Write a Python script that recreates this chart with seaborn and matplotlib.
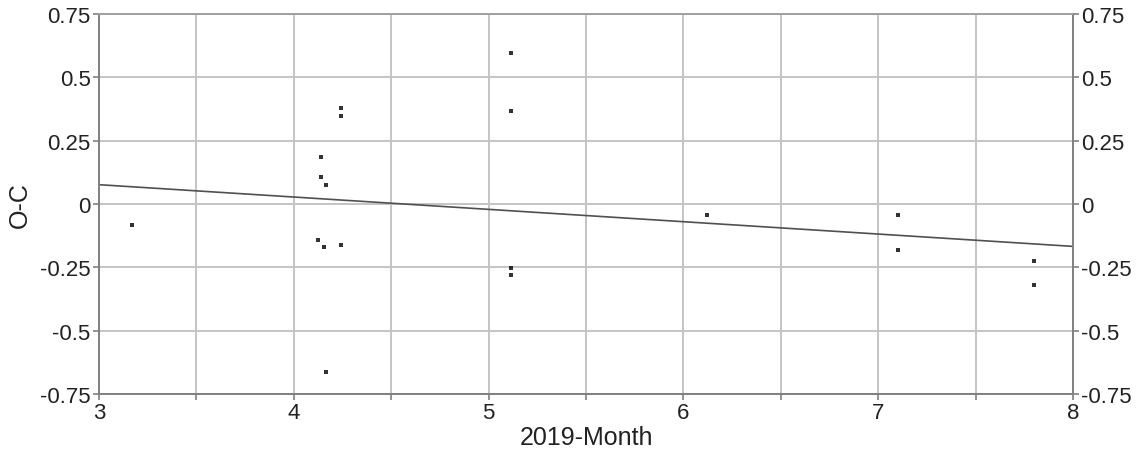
import numpy as np
import pandas as pd
import matplotlib
matplotlib.use("Agg")
import matplotlib.pyplot as plt
import seaborn as sns
from matplotlib.ticker import FuncFormatter

# observations: month of 2019 vs O-C residual
month = [3.171, 4.141, 4.141, 4.165, 4.244, 4.244, 4.123, 4.155, 4.244, 4.165,
         5.115, 5.115, 5.115, 5.115, 6.123, 7.100, 7.100, 7.800, 7.800]
o_c = [-0.083, 0.186, 0.105, 0.076, 0.380, 0.346, -0.141, -0.171, -0.162, -0.664,
       0.596, 0.368, -0.251, -0.282, -0.043, -0.043, -0.183, -0.224, -0.320]

y_ticks = [-0.75, -0.5, -0.25, 0, 0.25, 0.5, 0.75]
y_labels = ["-0.75", "-0.5", "-0.25", "0", "0.25", "0.5", "0.75"]
x_ticks = [3, 3.5, 4, 4.5, 5, 5.5, 6, 6.5, 7, 7.5, 8]

df = pd.DataFrame({"month": month, "oc": o_c})

sns.set_style("white")
plt.rcParams["font.family"] = ["Liberation Sans", "DejaVu Sans"]

fig = plt.figure(figsize=(11.38, 4.52), dpi=100)
ax = fig.add_axes([0.087, 0.126, 0.856, 0.841])
ax.set_xlim(3, 8)
ax.set_ylim(-0.75, 0.75)

sns.regplot(data=df, x="month", y="oc", ax=ax, ci=None, truncate=False,
            marker="s", color="black",
            scatter_kws={"s": 10, "linewidths": 0, "zorder": 3},
            line_kws={"color": "#505050", "linewidth": 1.2, "zorder": 2})

ax.set_xlim(3, 8)
ax.set_ylim(-0.75, 0.75)
ax.set_xticks(x_ticks)
ax.xaxis.set_major_formatter(FuncFormatter(lambda v, p: f"{v:g}" if float(v).is_integer() else ""))
ax.set_yticks(y_ticks)
ax.set_yticklabels(y_labels)
ax.grid(True, color="#c4c4c4", linewidth=1.4)
ax.set_axisbelow(True)

for s in ax.spines.values():
    s.set_color("#808080")
    s.set_linewidth(1.4)
ax.spines["top"].set_color("#a0a0a0")

ax.tick_params(axis="both", direction="out", length=4, width=1.2, color="#808080",
               labelsize=16, labelcolor="#222222", pad=2)
ax.tick_params(axis="y", left=True)
ax.tick_params(axis="x", bottom=True)
ax.set_xlabel("2019-Month", fontsize=18, color="#222222", labelpad=1)
ax.set_ylabel("O-C", fontsize=18, color="#222222", labelpad=6)

ax2 = ax.twinx()
ax2.set_ylim(-0.75, 0.75)
ax2.set_yticks(y_ticks)
ax2.set_yticklabels(y_labels)
ax2.tick_params(axis="y", direction="out", length=4, width=1.2, color="#808080",
                labelsize=16, labelcolor="#222222", pad=2, right=True)
for s in ax2.spines.values():
    s.set_visible(False)

fig.savefig("out.png", dpi=100)
